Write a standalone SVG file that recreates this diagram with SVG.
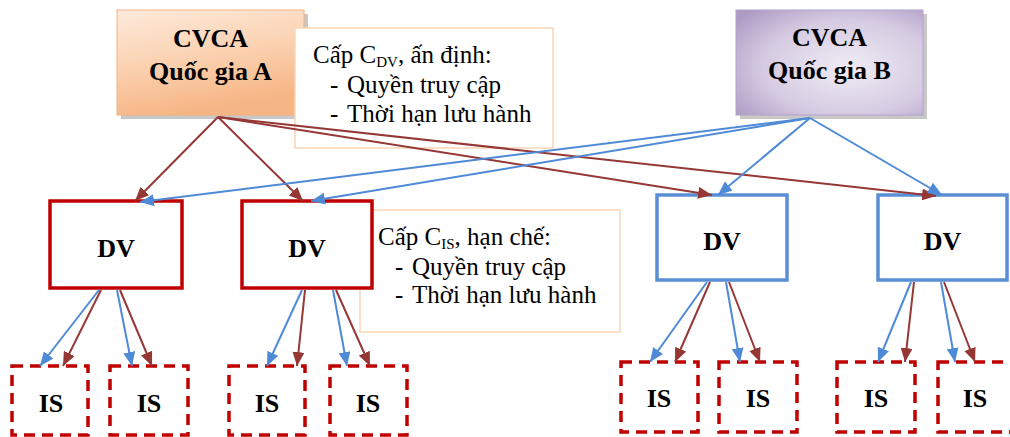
<svg xmlns="http://www.w3.org/2000/svg" width="1010" height="437" viewBox="0 0 1010 437">
<defs>
<linearGradient id="gA" x1="0" y1="0" x2="0.3" y2="1">
<stop offset="0" stop-color="#fdeadb"/>
<stop offset="0.5" stop-color="#fbd3b3"/>
<stop offset="1" stop-color="#f6b584"/>
</linearGradient>
<radialGradient id="gB" cx="0.6" cy="0.55" r="0.75">
<stop offset="0" stop-color="#f0ecf4"/>
<stop offset="0.6" stop-color="#d6cbe2"/>
<stop offset="1" stop-color="#ad9bc4"/>
</radialGradient>
<marker id="mBr" markerUnits="userSpaceOnUse" markerWidth="14" markerHeight="12" refX="14" refY="6" orient="auto">
<path d="M0,0 L14,6 L0,12 z" fill="#953735"/>
</marker>
<marker id="mBl" markerUnits="userSpaceOnUse" markerWidth="14" markerHeight="12" refX="14" refY="6" orient="auto">
<path d="M0,0 L14,6 L0,12 z" fill="#4f8ad6"/>
</marker>
</defs>
<style>
.cv{font-family:'Liberation Serif','Times New Roman',serif;font-weight:bold;font-size:26px;fill:#000;text-anchor:middle}
.lbl{font-family:'Liberation Serif','Times New Roman',serif;font-size:25px;fill:#000}
.sub{font-size:15px}
.note{fill:#fff;stroke:#fbd5b5;stroke-width:1.5}
.shadow{fill:#9a9a9a;opacity:0.55}
.dvr{fill:#fff;stroke:#c00000;stroke-width:3.5}
.dvb{fill:#fff;stroke:#5b8fd5;stroke-width:3.5}
.is{fill:#fff;stroke:#c00000;stroke-width:3.5;stroke-dasharray:11,7}
.br{stroke:#953735;stroke-width:2;fill:none;marker-end:url(#mBr)}
.bl{stroke:#4f8ad6;stroke-width:2;fill:none;marker-end:url(#mBl)}
</style>
<rect width="1010" height="437" fill="#fff"/>
<g id="cvcaA">
<rect class="shadow" x="121" y="14" width="187" height="105"/>
<rect x="117" y="10" width="187" height="105" fill="url(#gA)" stroke="#f4b183" stroke-width="1"/>
<text class="cv" x="210.5" y="47">CVCA</text>
<text class="cv" x="210.5" y="80">Quốc gia A</text>
</g>

<g id="cvcaB">
<rect class="shadow" x="740" y="14" width="187" height="105"/>
<rect x="736" y="10" width="187" height="105" fill="url(#gB)" stroke="#b3a2c7" stroke-width="1"/>
<text class="cv" x="829.5" y="46">CVCA</text>
<text class="cv" x="829.5" y="79">Quốc gia B</text>
</g>

<g id="note1">
<rect class="note" x="295" y="28" width="258" height="120"/>
<text class="lbl" x="313" y="63">Cấp C<tspan class="sub" dy="4">DV</tspan><tspan dy="-4">, ấn định:</tspan></text>
<text class="lbl" x="330" y="93">-</text>
<text class="lbl" x="347" y="93">Quyền truy cập</text>
<text class="lbl" x="330" y="122">-</text>
<text class="lbl" x="347" y="122">Thời hạn lưu hành</text>
</g>

<g id="note2">
<rect class="note" x="360" y="210" width="260" height="122"/>
<text class="lbl" x="378" y="245">Cấp C<tspan class="sub" dy="4">IS</tspan><tspan dy="-4">, hạn chế:</tspan></text>
<text class="lbl" x="395" y="275">-</text>
<text class="lbl" x="412" y="275">Quyền truy cập</text>
<text class="lbl" x="395" y="303">-</text>
<text class="lbl" x="412" y="303">Thời hạn lưu hành</text>
</g>

<g id="dv1"><rect class="dvr" x="50" y="201" width="132" height="87"/><text class="cv" x="116" y="257">DV</text></g>
<g id="dv2"><rect class="dvr" x="242" y="201" width="130" height="87"/><text class="cv" x="307" y="257">DV</text></g>
<g id="dv3"><rect class="dvb" x="657" y="195" width="130" height="85"/><text class="cv" x="722" y="250">DV</text></g>
<g id="dv4"><rect class="dvb" x="878" y="195" width="129" height="85"/><text class="cv" x="942.5" y="250">DV</text></g>

<g id="is1"><rect class="is" x="12" y="366" width="76" height="69"/><text class="cv" x="51" y="412">IS</text></g>
<g id="is2"><rect class="is" x="110" y="366" width="78" height="69"/><text class="cv" x="149" y="412">IS</text></g>
<g id="is3"><rect class="is" x="229" y="366" width="76" height="69"/><text class="cv" x="267" y="412">IS</text></g>
<g id="is4"><rect class="is" x="330" y="366" width="77" height="69"/><text class="cv" x="368" y="412">IS</text></g>
<g id="is5"><rect class="is" x="621" y="362" width="77" height="70"/><text class="cv" x="659" y="407">IS</text></g>
<g id="is6"><rect class="is" x="719" y="362" width="78" height="70"/><text class="cv" x="758" y="407">IS</text></g>
<g id="is7"><rect class="is" x="837" y="362" width="78" height="70"/><text class="cv" x="876" y="407">IS</text></g>
<g id="is8"><rect class="is" x="938" y="362" width="78" height="70"/><text class="cv" x="975" y="407">IS</text></g>

<g id="connectors">
<line class="br" x1="218" y1="117" x2="135" y2="201"/>
<line class="br" x1="218" y1="117" x2="303" y2="201"/>
<line class="br" x1="218" y1="117" x2="712" y2="195"/>
<line class="br" x1="218" y1="117" x2="936" y2="196"/>
<line class="bl" x1="810" y1="118" x2="140" y2="202"/>
<line class="bl" x1="810" y1="118" x2="311" y2="201"/>
<line class="bl" x1="810" y1="118" x2="718" y2="195"/>
<line class="bl" x1="810" y1="118" x2="942" y2="195"/>

<line class="bl" x1="99" y1="290" x2="40" y2="366"/>
<line class="br" x1="101" y1="290" x2="63" y2="366"/>
<line class="bl" x1="117" y1="290" x2="132" y2="366"/>
<line class="br" x1="120" y1="290" x2="152" y2="366"/>

<line class="bl" x1="302" y1="290" x2="267" y2="366"/>
<line class="br" x1="305" y1="290" x2="297" y2="366"/>
<line class="bl" x1="333" y1="290" x2="347" y2="366"/>
<line class="br" x1="336" y1="290" x2="370" y2="366"/>

<line class="bl" x1="707" y1="282" x2="650" y2="362"/>
<line class="br" x1="710" y1="282" x2="675" y2="362"/>
<line class="bl" x1="726" y1="282" x2="740" y2="362"/>
<line class="br" x1="729" y1="282" x2="760" y2="362"/>

<line class="bl" x1="911" y1="282" x2="878" y2="362"/>
<line class="br" x1="914" y1="282" x2="905" y2="362"/>
<line class="bl" x1="941" y1="282" x2="955" y2="362"/>
<line class="br" x1="944" y1="282" x2="975" y2="362"/>
</g>
</svg>
